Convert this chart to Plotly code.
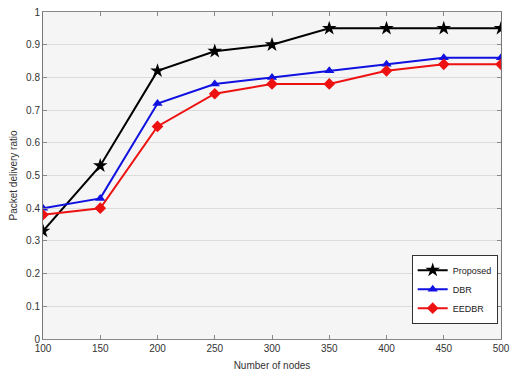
import plotly.graph_objects as go

nodes = [100, 150, 200, 250, 300, 350, 400, 450, 500]
proposed = [0.33, 0.53, 0.82, 0.88, 0.90, 0.95, 0.95, 0.95, 0.95]
dbr = [0.40, 0.43, 0.72, 0.78, 0.80, 0.82, 0.84, 0.86, 0.86]
eedbr = [0.38, 0.40, 0.65, 0.75, 0.78, 0.78, 0.82, 0.84, 0.84]

fig = go.Figure()
fig.add_trace(go.Scatter(x=nodes, y=proposed, name="Proposed", mode="lines+markers",
                         line=dict(color="black", width=2),
                         marker=dict(symbol="star", size=11, color="black")))
fig.add_trace(go.Scatter(x=nodes, y=dbr, name="DBR", mode="lines+markers",
                         line=dict(color="#1010e0", width=2),
                         marker=dict(symbol="triangle-up", size=9, color="#1010e0")))
fig.add_trace(go.Scatter(x=nodes, y=eedbr, name="EEDBR", mode="lines+markers",
                         line=dict(color="#ee1111", width=2),
                         marker=dict(symbol="diamond", size=9, color="#ee1111")))

fig.update_layout(
    width=516, height=376,
    margin=dict(l=43, r=6, t=12, b=37),
    paper_bgcolor="white", plot_bgcolor="#f5f5f5",
    font=dict(family="Liberation Sans, Arial", size=10, color="#333"),
    showlegend=True,
    legend=dict(x=0.805, y=0.258, xanchor="left", yanchor="top",
                bgcolor="white", bordercolor="#333", borderwidth=1,
                font=dict(size=9, color="#222"), tracegroupgap=0,
                itemwidth=30),
    xaxis=dict(range=[100, 500], tickvals=nodes, ticks="inside", ticklen=4,
               showgrid=False, zeroline=False, showline=True, linecolor="#888",
               mirror="ticks", tickcolor="#888", ticklabeloverflow="allow",
               title=dict(text="Number of nodes", standoff=8, font=dict(size=10))),
    yaxis=dict(range=[0, 1], dtick=0.1, ticks="inside", ticklen=4,
               showgrid=True, gridcolor="#dcdcdc", zeroline=False,
               showline=True, linecolor="#777", mirror="ticks", tickcolor="#888",
               tickformat="~g",
               title=dict(text="Packet delivery ratio", standoff=6, font=dict(size=10))),
)
fig.write_html("out.html")
